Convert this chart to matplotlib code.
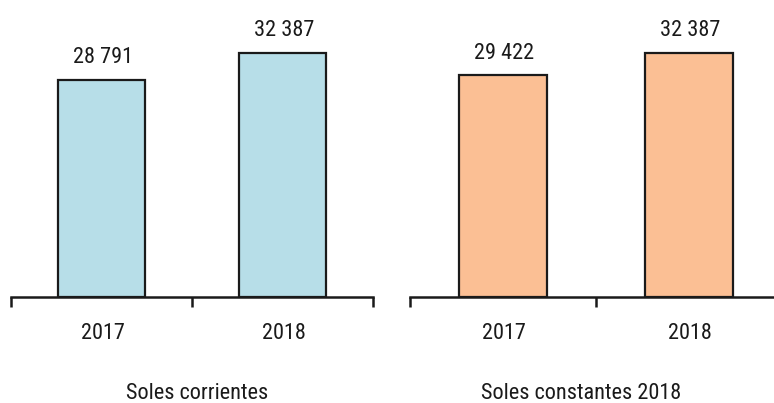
import matplotlib
matplotlib.use("Agg")
import matplotlib.pyplot as plt

plt.rcParams['font.family'] = ['Roboto Condensed', 'DejaVu Sans']

years = ["2017", "2018"]
corrientes = [28791, 32387]
constantes = [29422, 32387]
titles = ["Soles corrientes", "Soles constantes 2018"]
colors = ["#B7DEE8", "#FBBF94"]

def fmt(v):
    return f"{v:,}".replace(",", " ")

fig = plt.figure(figsize=(7.74, 4.03), dpi=100)
W, H = 774, 403
bottom = (H - 297) / H
height = 277 / H
ymax = 36740
FS = 16

panels = [
    (11, 362, corrientes, colors[0], 0.486, titles[0], 197),
    (410, 372, constantes, colors[1], 0.476, titles[1], 581),
]
for left, width, vals, col, bw, title, tx in panels:
    ax = fig.add_axes([left / W, bottom, width / W, height])
    x = list(range(len(years)))
    ax.bar(x, vals, width=bw, color=col, edgecolor="#1a1a1a", linewidth=1.6, zorder=2)
    ax.set_xlim(-0.5, 1.5)
    ax.set_ylim(0, ymax)
    for s in ["top", "right", "left"]:
        ax.spines[s].set_visible(False)
    ax.spines["bottom"].set_linewidth(1.8)
    ax.spines["bottom"].set_color("#1a1a1a")
    ax.set_yticks([])
    ax.set_xticks([-0.5, 0.5, 1.5])
    ax.set_xticklabels([])
    ax.tick_params(axis="x", direction="out", length=7, width=1.8, color="#1a1a1a")
    for i, v in enumerate(vals):
        ax.annotate(fmt(v), (i, v), xytext=(1, 12), textcoords="offset points",
                    ha="center", va="baseline", fontsize=FS, color="#1a1a1a")
        ax.annotate(years[i], (i, 0), xytext=(1, -30), textcoords="offset points",
                    ha="center", va="baseline", fontsize=FS, color="#1a1a1a",
                    annotation_clip=False)
    fig.text(tx / W, 4 / H, title, ha="center", va="baseline", fontsize=FS, color="#1a1a1a")

fig.savefig("out.png", dpi=100)
